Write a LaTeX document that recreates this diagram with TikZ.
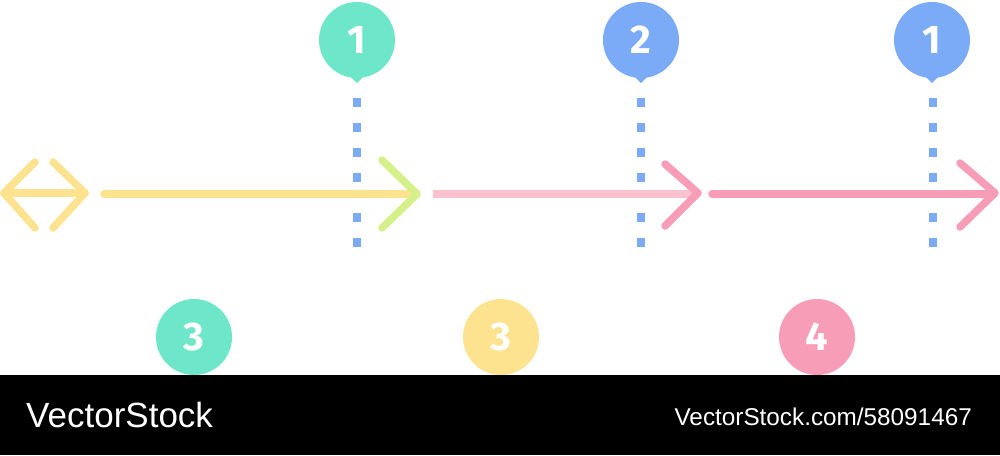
\documentclass[tikz,border=0pt]{standalone}
\usepackage{fontspec}
\setmainfont{Liberation Sans}
\newfontfamily\digitfont{Fira Sans}
\usetikzlibrary{calc}

\definecolor{mint}{HTML}{6EE6C9}
\definecolor{skyblue}{HTML}{7BAAF7}
\definecolor{rose}{HTML}{F89DB8}
\definecolor{blush}{HTML}{FCC1D1}
\definecolor{butter}{HTML}{FDE38F}
\definecolor{lime}{HTML}{D5EF89}

\tikzset{
	pin/.style={circle,minimum size=76pt,inner sep=0pt,text=white,
		font=\digitfont\bfseries\fontsize{40}{40}\selectfont},
	dots/.style={draw=skyblue,line width=8pt,dash pattern=on 9pt off 16pt},
	stroke/.style={line width=7.5pt,line cap=round,line join=round},
}

\begin{document}
\begin{tikzpicture}[x=1pt,y=-1pt]
		\useasboundingbox (0,0) rectangle (1000,455);
		
		\node[pin,fill=mint] (pinA) at (357,40) {1};
		\node[pin,fill=skyblue] (pinB) at (641,40) {2};
		\node[pin,fill=skyblue] (pinC) at (932,40) {1};
		
		\fill[mint] ($(pinA.south)+(-8,-3)$) -- ($(pinA.south)+(0,5)$) -- ($(pinA.south)+(8,-3)$) -- cycle;
		\fill[skyblue] ($(pinB.south)+(-8,-3)$) -- ($(pinB.south)+(0,5)$) -- ($(pinB.south)+(8,-3)$) -- cycle;
		\fill[skyblue] ($(pinC.south)+(-8,-3)$) -- ($(pinC.south)+(0,5)$) -- ($(pinC.south)+(8,-3)$) -- cycle;
		
		\draw[dots] ($(pinA.south)+(0,20)$) -- ($(pinA.south)+(0,104)$);
		\draw[dots] ($(pinA.south)+(0,135)$) -- ($(pinA.south)+(0,169)$);
		\draw[dots] ($(pinB.south)+(0,20)$) -- ($(pinB.south)+(0,104)$);
		\draw[dots] ($(pinB.south)+(0,135)$) -- ($(pinB.south)+(0,169)$);
		\draw[dots] ($(pinC.south)+(1,20)$) -- ($(pinC.south)+(1,104)$);
		\draw[dots] ($(pinC.south)+(1,135)$) -- ($(pinC.south)+(1,169)$);
		
		\draw[stroke,butter] (4,193) -- (85,193);
		\draw[stroke,butter] (35,162) -- (4,193) -- (35,228);
		\draw[stroke,butter] (53,162) -- (85,193) -- (53,228);
		
		\draw[stroke,butter] (104,194) -- (412,194);
		\draw[stroke,lime] (382,160) -- (417,194) -- (382,228);
		
		\draw[stroke,blush,line cap=butt] (433,194) -- (697,194);
		\draw[stroke,rose] (665,164) -- (698,193) -- (665,226);
		
		\draw[stroke,rose] (712,194) -- (994,194);
		\draw[stroke,rose] (960,163) -- (995,193) -- (960,227);
		
		\node[pin,fill=mint] (countA) at (194,337) {3};
		\node[pin,fill=butter] (countB) at (501,337) {3};
		\node[pin,fill=rose] (countC) at (817,337) {4};
		
		\fill[black] (0,375) rectangle (1000,455);
		\node[anchor=base west,inner sep=0pt,text=white,font=\fontsize{35}{35}\selectfont] (brand) at (26,427) {VectorStock};
		\node[anchor=base east,inner sep=0pt,text=white,font=\fontsize{24.3}{24.3}\selectfont] (link) at (972,425) {VectorStock.com/58091467};
	
	\end{tikzpicture}
\end{document}
